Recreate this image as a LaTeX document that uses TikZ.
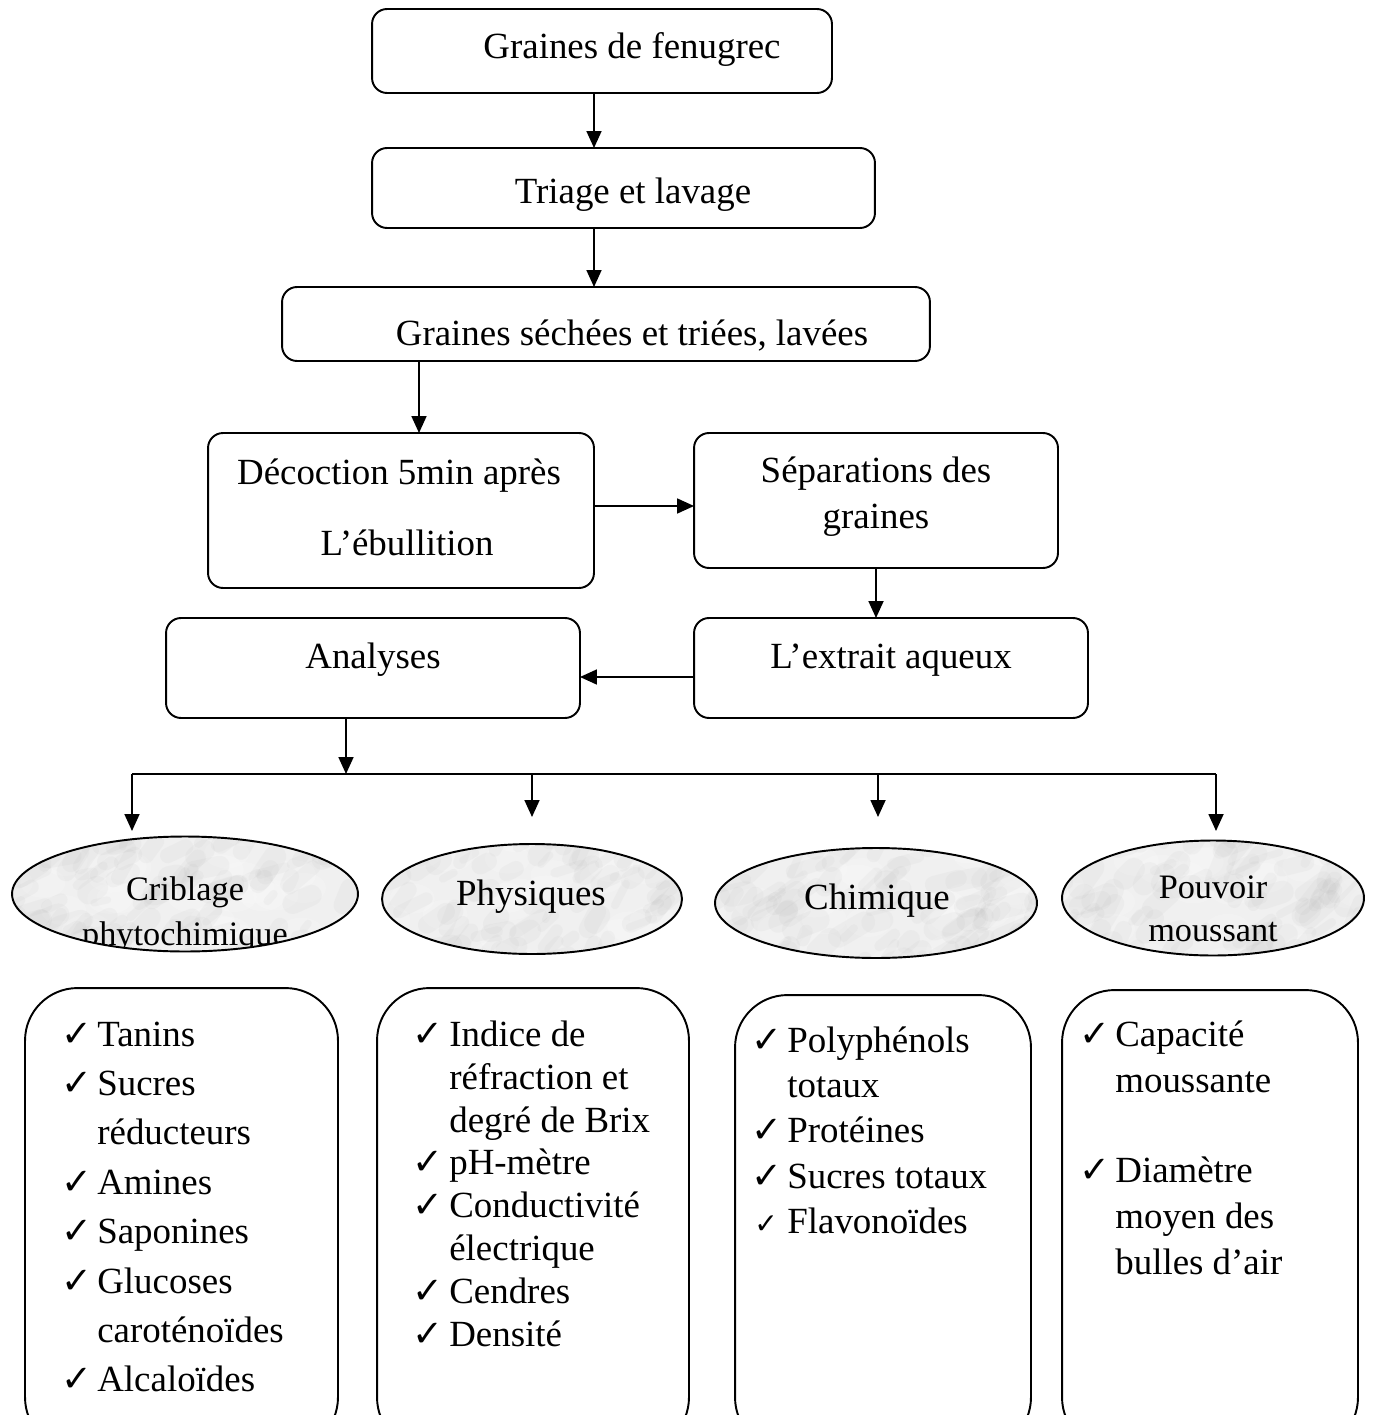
\documentclass[tikz,border=0pt]{standalone}
\usepackage{fontspec}
\setmainfont{Liberation Serif}
\newfontfamily\symfont{DejaVu Sans}
\usetikzlibrary{arrows.meta,shapes.geometric}
\begin{document}
\begin{tikzpicture}[x=0.02cm,y=-0.02cm,
  box/.style={draw, line width=1.1pt, rounded corners=0.3cm, inner sep=0pt, outer sep=0pt},
  bigbox/.style={draw, line width=1.1pt, rounded corners=1.05cm, inner sep=0pt, outer sep=0pt},
  lbl/.style={anchor=base, inner sep=0pt, font=\fontsize{21}{25}\selectfont},
  slbl/.style={anchor=base, inner sep=0pt, font=\fontsize{19.5}{23}\selectfont},
  item/.style={anchor=base west, inner sep=0pt, font=\fontsize{21}{25}\selectfont},
  ckm/.style={anchor=base west, inner sep=0pt, font=\symfont\fontsize{21}{21}\selectfont},
  ell/.style={ellipse, draw, line width=1.1pt, inner sep=0pt, outer sep=0pt},
  arr/.style={line width=1pt, -{Triangle[length=0.34cm,width=0.3cm]}},
  ln/.style={line width=1pt},
  marble/.style={fill=gray!12, path picture={
    \pgfmathsetseed{#1}
    \begin{scope}[shift={(path picture bounding box.center)}]
      \foreach \k in {1,...,40}{
        \pgfmathsetmacro\ax{rnd*7.6-3.8}
        \pgfmathsetmacro\ay{rnd*2.8-1.4}
        \fill[white, opacity=0.18] (\ax cm,\ay cm) ellipse [x radius=0.45cm, y radius=0.3cm];
      }
      \foreach \k in {1,...,130}{
        \pgfmathsetmacro\ax{rnd*7.6-3.8}
        \pgfmathsetmacro\ay{rnd*2.8-1.4}
        \pgfmathsetmacro\ar{rnd*60+10}
        \pgfmathsetmacro\al{rnd*0.5+0.15}
        \pgfmathsetmacro\lw{rnd*9+4}
        \pgfmathsetmacro\ex{\al*cos(\ar)}
        \pgfmathsetmacro\ey{\al*sin(\ar)}
        \draw[gray!80, opacity=0.06, line width=\lw pt, line cap=round] (\ax cm,\ay cm) -- ++(\ex cm,\ey cm);
      }
    \end{scope}
  }}]
\useasboundingbox (0,0) rectangle (1372,1415);
\clip (0,0) rectangle (1372,1415);

% ---- top flow boxes ----
\node[box, minimum width=9.2cm,  minimum height=1.68cm] (n1) at (602,51) {};
\node[box, minimum width=10.06cm, minimum height=1.6cm] (n2) at (623.5,188) {};
\node[box, minimum width=12.96cm, minimum height=1.48cm] (n3) at (606,324) {};
\node[box, minimum width=7.72cm, minimum height=3.1cm] (n4) at (401,510.5) {};
\node[box, minimum width=7.28cm, minimum height=2.7cm] (n5) at (876,500.5) {};
\node[box, minimum width=8.28cm, minimum height=2.0cm] (n6) at (373,668) {};
\node[box, minimum width=7.88cm, minimum height=2.0cm] (n7) at (891,668) {};

\node[lbl] (t1) at (632,59) {Graines de fenugrec};
\node[lbl] (t2) at (633,204) {Triage et lavage};
\node[lbl] (t3) at (632,346) {Graines séchées et triées, lavées};
\node[lbl] (t4a) at (399,484) {Décoction 5min après};
\node[lbl] (t4b) at (407,555) {L’ébullition};
\node[lbl] (t5a) at (876,482) {Séparations des};
\node[lbl] (t5b) at (876,528) {graines};
\node[lbl] (t6) at (373,668) {Analyses};
\node[lbl] (t7) at (891,668) {L’extrait aqueux};

% ---- helper coordinates ----
\coordinate (x594) at (594,0);
\coordinate (x419) at (419,0);
\coordinate (x346) at (346,0);
\coordinate (y506) at (0,506);
\coordinate (y677) at (0,677);
\coordinate (busL) at (132,774);
\coordinate (busR) at (1216,774);
\coordinate (bus2) at (532,774);
\coordinate (bus3) at (878,774);
\coordinate (d1) at (132,831);
\coordinate (d2) at (532,817);
\coordinate (d3) at (878,817);
\coordinate (d4) at (1216,831);

% ---- connectors ----
\draw[arr] (n1.south -| x594) -- (n2.north -| x594);
\draw[arr] (n2.south -| x594) -- (n3.north -| x594);
\draw[arr] (n3.south -| x419) -- (n4.north -| x419);
\draw[arr] (n4.east |- y506) -- (n5.west |- y506);
\draw[arr] (n5.south) -- (n7.north -| n5.south);
\draw[arr] (n7.west |- y677) -- (n6.east |- y677);
\draw[arr] (n6.south -| x346) -- (busL -| x346);
\draw[ln] (busL) -- (busR);
\draw[arr] (busL) -- (d1);
\draw[arr] (bus2) -- (d2);
\draw[arr] (bus3) -- (d3);
\draw[arr] (busR) -- (d4);

% ---- ellipses ----
\node[ell, marble=11, minimum width=6.92cm, minimum height=2.3cm] (e1) at (185,894) {};
\node[ell, marble=23, minimum width=6.0cm, minimum height=2.2cm] (e2) at (532,899) {};
\node[ell, marble=37, minimum width=6.44cm, minimum height=2.2cm] (e3) at (876,903) {};
\node[ell, marble=53, minimum width=6.04cm, minimum height=2.3cm] (e4) at (1213,898) {};

\begin{scope}
  \clip (e1.center) ellipse [x radius=3.44cm, y radius=1.13cm];
  \node[slbl] (l1a) at (185,900) {Criblage};
  \node[slbl] (l1b) at (185,945) {phytochimique};
\end{scope}
\node[lbl] (l2) at (531,905) {Physiques};
\node[lbl] (l3) at (877,909) {Chimique};
\begin{scope}
  \clip (e4.center) ellipse [x radius=3.0cm, y radius=1.13cm];
  \node[slbl] (l4a) at (1213,898) {Pouvoir};
  \node[slbl] (l4b) at (1213,941) {moussant};
\end{scope}

% ---- bottom boxes ----
\node[bigbox, minimum width=6.26cm, minimum height=9.24cm] (b1) at (181.5,1219) {};
\node[bigbox, minimum width=6.24cm, minimum height=9.24cm] (b2) at (533,1219) {};
\node[bigbox, minimum width=5.92cm, minimum height=9.1cm] (b3) at (883,1222.5) {};
\node[bigbox, minimum width=5.92cm, minimum height=9.2cm] (b4) at (1210,1220) {};

\foreach \yy/\c/\t [count=\n] in {1046/1/Tanins, 1095/1/Sucres, 1144/0/réducteurs, 1194/1/Amines, 1243/1/Saponines, 1293/1/Glucoses, 1342/0/caroténoïdes, 1391/1/Alcaloïdes}{
  \node[item] (pa\n) at (97,\yy) {\t};
  \ifnum\c=1 \node[ckm] (ca\n) at (61,\yy) {✓};\fi
}
\foreach \yy/\c/\t [count=\n] in {1046/1/Indice de, 1089/0/réfraction et, 1132/0/degré de Brix, 1174/1/pH-mètre, 1217/1/Conductivité, 1260/0/électrique, 1303/1/Cendres, 1346/1/Densité}{
  \node[item] (pb\n) at (449,\yy) {\t};
  \ifnum\c=1 \node[ckm] (cb\n) at (412,\yy) {✓};\fi
}
\foreach \yy/\c/\t [count=\n] in {1052/1/Polyphénols, 1097/0/totaux, 1142/1/Protéines, 1188/1/Sucres totaux}{
  \node[item] (pc\n) at (787,\yy) {\t};
  \ifnum\c=1 \node[ckm] (cc\n) at (751,\yy) {✓};\fi
}
\node[item] (pc5) at (787,1233) {Flavonoïdes};
\node[ckm, font=\symfont\fontsize{16}{16}\selectfont] (cc5) at (754,1233) {✓};
\foreach \yy/\c/\t [count=\n] in {1046/1/Capacité, 1092/0/moussante, 1182/1/Diamètre, 1228/0/moyen des, 1274/0/bulles d’air}{
  \node[item] (pd\n) at (1115,\yy) {\t};
  \ifnum\c=1 \node[ckm] (cd\n) at (1079,\yy) {✓};\fi
}
\end{tikzpicture}
\end{document}
